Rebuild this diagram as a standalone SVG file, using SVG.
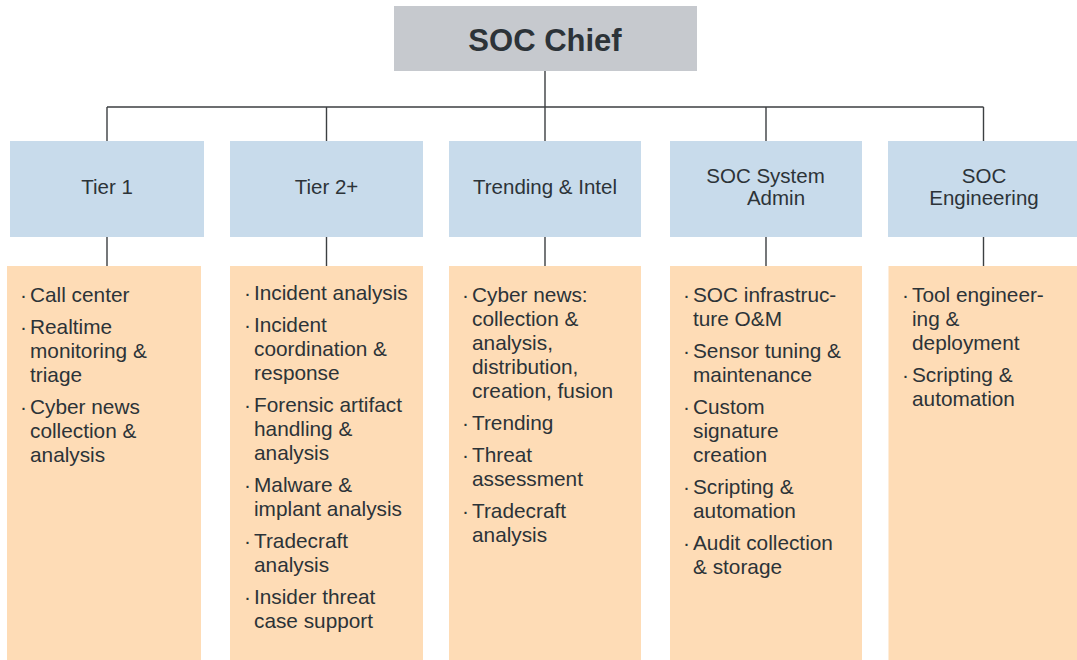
<svg xmlns="http://www.w3.org/2000/svg" width="1077" height="660" viewBox="0 0 1077 660">
<style>
.chief{fill:#c6c9ce}
.hdr{fill:#c8dbeb}
.body{fill:#fedcb6}
.conn{stroke:#3c3f42;stroke-width:1.4;fill:none}
text{font-family:"Liberation Sans",Arial,sans-serif;fill:#2c3338}
.t{font-size:20.8px}
.h{font-size:20.5px;text-anchor:middle}
.c{font-size:31px;font-weight:bold;text-anchor:middle}
</style>
<rect width="1077" height="660" fill="#ffffff"/>
<g id="connectors">
<path class="conn" d="M545 71V141M107 107H983.5M107 107V141M326.5 107V141M766 107V141M983.5 107V141"/>
<path class="conn" d="M107 237V266M326.5 237V266M545 237V266M766 237V266M983.5 237V266"/>
</g>
<g id="soc-chief">
<rect class="chief" x="394" y="6" width="303" height="65"/>
<text class="c" x="545" y="51">SOC Chief</text>
</g>
<g id="tier1">
<rect class="hdr" x="10" y="141" width="194" height="96"/>
<text class="h" x="107" y="194">Tier 1</text>
</g>
<g id="tier2">
<rect class="hdr" x="230" y="141" width="193" height="96"/>
<text class="h" x="326.5" y="194">Tier 2+</text>
</g>
<g id="trending">
<rect class="hdr" x="449" y="141" width="192" height="96"/>
<text class="h" x="545" y="194">Trending &amp; Intel</text>
</g>
<g id="sysadmin">
<rect class="hdr" x="670" y="141" width="192" height="96"/>
<text class="h" x="765.5" y="183">SOC System</text>
<text class="h" x="776" y="205">Admin</text>
</g>
<g id="engineering">
<rect class="hdr" x="888" y="141" width="193" height="96"/>
<text class="h" x="984" y="183">SOC</text>
<text class="h" x="984" y="205">Engineering</text>
</g>
<g id="tier1-duties">
<rect class="body" x="7" y="266" width="194" height="394"/>
<text class="t"><tspan x="20" y="302">·</tspan><tspan x="30" y="302">Call center</tspan><tspan x="20" y="334">·</tspan><tspan x="30" y="334">Realtime</tspan><tspan x="30" y="358">monitoring &amp;</tspan><tspan x="30" y="382">triage</tspan><tspan x="20" y="414">·</tspan><tspan x="30" y="414">Cyber news</tspan><tspan x="30" y="438">collection &amp;</tspan><tspan x="30" y="462">analysis</tspan></text>
</g>
<g id="tier2-duties">
<rect class="body" x="230" y="266" width="193" height="394"/>
<text class="t"><tspan x="244" y="300">·</tspan><tspan x="254" y="300">Incident analysis</tspan><tspan x="244" y="332">·</tspan><tspan x="254" y="332">Incident</tspan><tspan x="254" y="356">coordination &amp;</tspan><tspan x="254" y="380">response</tspan><tspan x="244" y="412">·</tspan><tspan x="254" y="412">Forensic artifact</tspan><tspan x="254" y="436">handling &amp;</tspan><tspan x="254" y="460">analysis</tspan><tspan x="244" y="492">·</tspan><tspan x="254" y="492">Malware &amp;</tspan><tspan x="254" y="516">implant analysis</tspan><tspan x="244" y="548">·</tspan><tspan x="254" y="548">Tradecraft</tspan><tspan x="254" y="572">analysis</tspan><tspan x="244" y="604">·</tspan><tspan x="254" y="604">Insider threat</tspan><tspan x="254" y="628">case support</tspan></text>
</g>
<g id="trending-duties">
<rect class="body" x="449" y="266" width="192" height="394"/>
<text class="t"><tspan x="462" y="302">·</tspan><tspan x="472" y="302">Cyber news:</tspan><tspan x="472" y="326">collection &amp;</tspan><tspan x="472" y="350">analysis,</tspan><tspan x="472" y="374">distribution,</tspan><tspan x="472" y="398">creation, fusion</tspan><tspan x="462" y="430">·</tspan><tspan x="472" y="430">Trending</tspan><tspan x="462" y="462">·</tspan><tspan x="472" y="462">Threat</tspan><tspan x="472" y="486">assessment</tspan><tspan x="462" y="518">·</tspan><tspan x="472" y="518">Tradecraft</tspan><tspan x="472" y="542">analysis</tspan></text>
</g>
<g id="sysadmin-duties">
<rect class="body" x="670" y="266" width="192" height="394"/>
<text class="t"><tspan x="683" y="302">·</tspan><tspan x="693" y="302">SOC infrastruc-</tspan><tspan x="693" y="326">ture O&amp;M</tspan><tspan x="683" y="358">·</tspan><tspan x="693" y="358">Sensor tuning &amp;</tspan><tspan x="693" y="382">maintenance</tspan><tspan x="683" y="414">·</tspan><tspan x="693" y="414">Custom</tspan><tspan x="693" y="438">signature</tspan><tspan x="693" y="462">creation</tspan><tspan x="683" y="494">·</tspan><tspan x="693" y="494">Scripting &amp;</tspan><tspan x="693" y="518">automation</tspan><tspan x="683" y="550">·</tspan><tspan x="693" y="550">Audit collection</tspan><tspan x="693" y="574">&amp; storage</tspan></text>
</g>
<g id="engineering-duties">
<rect class="body" x="888.5" y="266" width="193" height="394"/>
<text class="t"><tspan x="902" y="302">·</tspan><tspan x="912" y="302">Tool engineer-</tspan><tspan x="912" y="326">ing &amp;</tspan><tspan x="912" y="350">deployment</tspan><tspan x="902" y="382">·</tspan><tspan x="912" y="382">Scripting &amp;</tspan><tspan x="912" y="406">automation</tspan></text>
</g>
</svg>
